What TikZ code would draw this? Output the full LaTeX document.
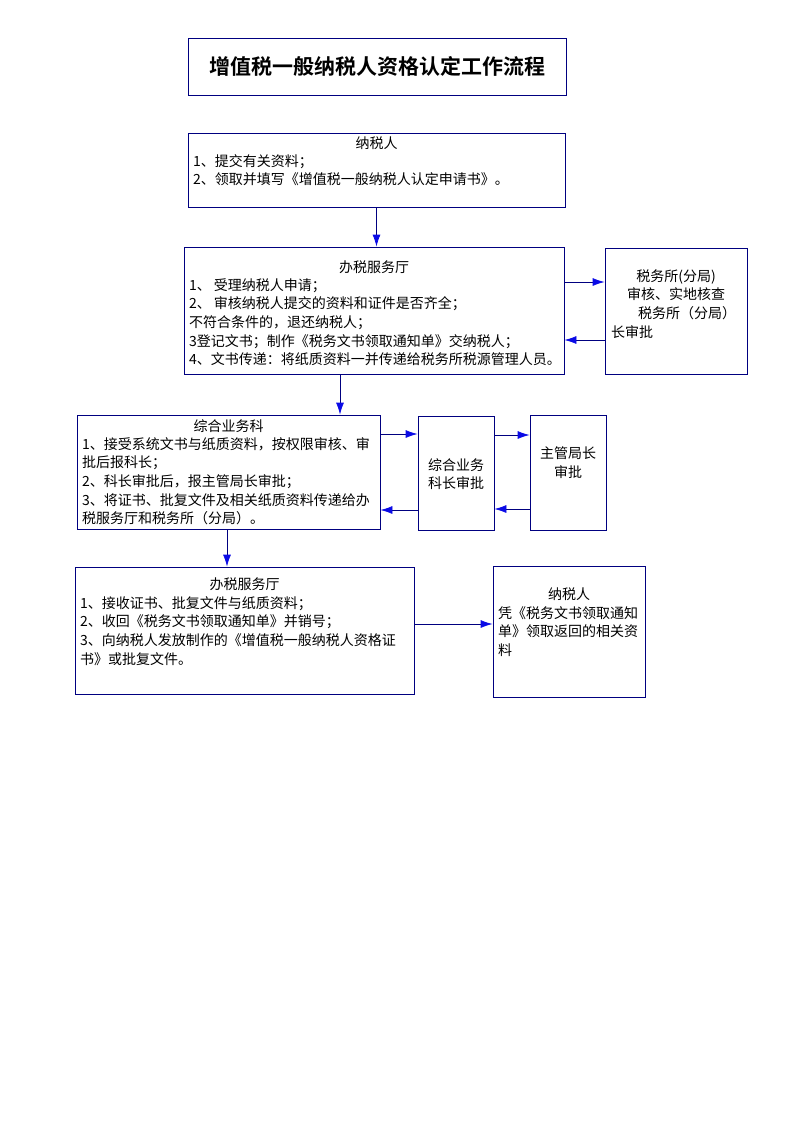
\documentclass[tikz,border=0pt]{standalone}
\usepackage{fontspec}
\newfontfamily\cjk[BoldFont={Noto Sans CJK SC Bold}]{Noto Sans CJK SC}
\usetikzlibrary{positioning,arrows.meta}
\definecolor{navy}{RGB}{0,0,128}
\definecolor{tipblue}{RGB}{10,10,230}

\begin{document}
\begin{tikzpicture}[x=1pt,y=-1pt]
        \tikzstyle{every path}=[line width=0.8pt]
        \useasboundingbox (0,0) rectangle (793,1122);

        \tikzstyle{box}=[draw=navy,inner sep=0pt]
        \tikzstyle{txt}=[inner sep=0pt,align=left,font=\cjk\fontsize{14}{18.6}\selectfont]
        \tikzstyle{mid}=[txt,align=center]
        \tikzstyle{link}=[draw=navy,-{Latex[length=12pt,width=8pt,color=tipblue]}]

        % boxes
        \node [box,minimum width=378,minimum height=57]  (title)  at (377,66.5)  {};
        \node [box,minimum width=377,minimum height=74]  (nsr1)   at (376.5,170) {};
        \node [box,minimum width=380,minimum height=127] (bsfwt1) at (374,310.5) {};
        \node [box,minimum width=142,minimum height=126] (swsuo)  at (676,311)   {};
        \node [box,minimum width=303,minimum height=114] (zhywk)  at (228.5,472) {};
        \node [box,minimum width=76,minimum height=114]  (kzsp)   at (456,473)   {};
        \node [box,minimum width=76,minimum height=115]  (jzsp)   at (568,472.5) {};
        \node [box,minimum width=339,minimum height=127] (bsfwt2) at (244.5,630.5) {};
        \node [box,minimum width=152,minimum height=131] (nsr2)   at (569,631.5) {};

        % texts
        \node [txt,font=\cjk\bfseries\fontsize{21}{24}\selectfont] (title_label) at (title.center) {增值税一般纳税人资格认定工作流程};

        \node [mid,below=3.5pt of nsr1.north] (nsr1_head) {纳税人};
        \node [txt,below right=21.5pt and 5pt of nsr1.north west] (nsr1_label)
            {1、提交有关资料；\\2、领取并填写《增值税一般纳税人认定申请书》。};

        \node [mid,below=13.5pt of bsfwt1.north] (bsfwt1_head) {办税服务厅};
        \node [txt,below right=31.5pt and 5pt of bsfwt1.north west] (bsfwt1_label)
            {1、 受理纳税人申请；\\2、 审核纳税人提交的资料和证件是否齐全；\\不符合条件的，退还纳税人；\\3登记文书；制作《税务文书领取通知单》交纳税人；\\4、文书传递：将纸质资料一并传递给税务所税源管理人员。};

        \node [txt,text width=130pt,below right=21.5pt and 6pt of swsuo.north west] (swsuo_label)
            {\makebox[\linewidth]{税务所(分局)}\\\makebox[\linewidth]{审核、实地核查}\\\hspace*{27pt}税务所（分局）\\长审批};

        \node [mid,below=4.5pt of zhywk.north] (zhywk_head) {综合业务科};
        \node [txt,below right=22.5pt and 5pt of zhywk.north west] (zhywk_label)
            {1、接受系统文书与纸质资料，按权限审核、审\\批后报科长；\\2、科长审批后，报主管局长审批；\\3、将证书、批复文件及相关纸质资料传递给办\\税服务厅和税务所（分局）。};

        \node [mid] (kzsp_label) at ([yshift=-1pt]kzsp.center) {综合业务\\科长审批};
        \node [mid] (jzsp_label) at ([yshift=10pt]jzsp.center) {主管局长\\审批};

        \node [mid,below=10.5pt of bsfwt2.north] (bsfwt2_head) {办税服务厅};
        \node [txt,below right=29.5pt and 5pt of bsfwt2.north west] (bsfwt2_label)
            {1、接收证书、批复文件与纸质资料；\\2、收回《税务文书领取通知单》并销号；\\3、向纳税人发放制作的《增值税一般纳税人资格证\\书》或批复文件。};

        \node [mid,below=21.5pt of nsr2.north] (nsr2_head) {纳税人};
        \node [txt,below right=40.5pt and 5pt of nsr2.north west] (nsr2_label)
            {凭《税务文书领取通知\\单》领取返回的相关资\\料};

        % arrows
        \draw[link] (nsr1.south) -- (nsr1.south |- bsfwt1.north);                  % nsr1->bsfwt1
        \draw[link] ([yshift=28.5pt]bsfwt1.east) -- ([yshift=29pt]swsuo.west);     % bsfwt1->swsuo
        \draw[link] ([yshift=-29pt]swsuo.west) -- ([yshift=-29.5pt]bsfwt1.east);   % swsuo->bsfwt1
        \draw[link] ([xshift=-34pt]bsfwt1.south) -- ([xshift=111.5pt]zhywk.north); % bsfwt1->zhywk
        \draw[link] ([yshift=38pt]zhywk.east) -- ([yshift=39pt]kzsp.west);         % zhywk->kzsp
        \draw[link] ([yshift=38pt]kzsp.east) -- ([yshift=37.5pt]jzsp.west);        % kzsp->jzsp
        \draw[link] ([yshift=-36.5pt]jzsp.west) -- ([yshift=-36pt]kzsp.east);      % jzsp->kzsp
        \draw[link] ([yshift=-37pt]kzsp.west) -- ([yshift=-38pt]zhywk.east);       % kzsp->zhywk
        \draw[link] ([xshift=-1.5pt]zhywk.south) -- ([xshift=-17.5pt]bsfwt2.north); % zhywk->bsfwt2
        \draw[link] ([yshift=6.5pt]bsfwt2.east) -- ([yshift=7.5pt]nsr2.west);      % bsfwt2->nsr2

\end{tikzpicture}
\end{document}
